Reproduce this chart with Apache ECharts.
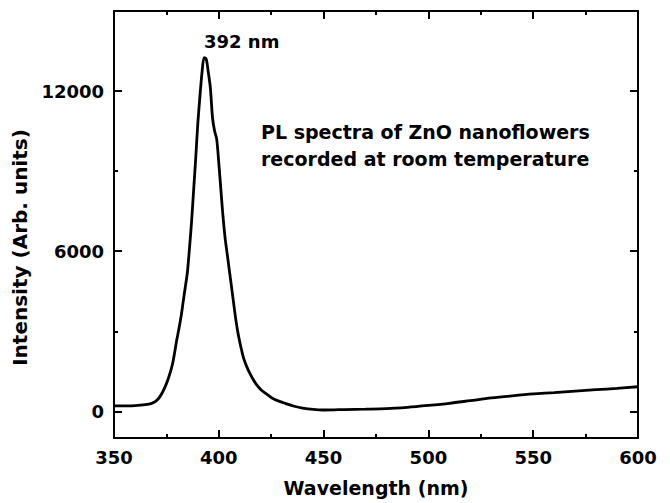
<!DOCTYPE html>
<html>
<head>
<meta charset="utf-8">
<script src="https://cdn.jsdelivr.net/npm/echarts@6/dist/echarts.min.js"></script>
<style>
  html, body { margin: 0; padding: 0; background: #fff; }
  #main { width: 670px; height: 503px; }
</style>
</head>
<body>
<div id="main"></div>
<script>
// PL 光谱数据
var wavelength = [350, 355, 360, 365, 368, 370, 372, 374, 376, 378, 380, 381, 382, 383, 384, 385, 386, 387, 388, 389,
    390, 391, 392, 393, 394, 395, 396, 397, 398, 399, 400, 401, 402, 403, 404, 405, 406, 407, 408, 409,
    410, 411, 412, 414, 416, 418, 420, 422, 425, 428, 432, 436, 440, 445, 450, 455, 460, 470, 480, 490,
    500, 510, 520, 530, 540, 550, 560, 570, 580, 590, 600];
var intensity = [200, 205, 215, 250, 300, 380, 560, 850, 1250, 1800, 2700, 3100, 3550, 4100, 4650, 5200, 6100, 7100, 8300, 9500,
    10800, 11800, 12700, 13250, 13200, 12700, 12100, 11000, 10500, 10200, 9300, 8300, 7300, 6500, 5900, 5300, 4700, 4100, 3500, 3000,
    2600, 2250, 1950, 1550, 1250, 1000, 820, 690, 520, 400, 290, 190, 120, 70, 50, 55, 65, 80, 100, 150,
    220, 300, 400, 500, 580, 650, 700, 760, 810, 860, 920];
var xTicks = [350, 400, 450, 500, 550, 600];
var yMajor = [0, 6000, 12000];
var yMinor = [3000, 9000];
var peakLabel = '392 nm';
var noteLines = ['PL spectra of ZnO nanoflowers', 'recorded at room temperature'];

var font = '"DejaVu Sans", sans-serif';
var points = [];
for (var i = 0; i < wavelength.length; i++) {
    points.push([wavelength[i], intensity[i]]);
}

// y 轴：主刻度、次刻度，左右各一套
function yAxisOf(pos, ticks, len, showLabel) {
    return {
        type: 'value', position: pos, min: -1000, max: 15000,
        axisLine: { show: true, lineStyle: { color: '#000', width: 2 } },
        splitLine: { show: false },
        axisTick: { show: true, inside: true, length: len, customValues: ticks, lineStyle: { color: '#000', width: 2 } },
        axisLabel: {
            show: showLabel, customValues: ticks, color: '#000', fontFamily: font, fontWeight: 'bold', fontSize: 18, margin: 10,
            formatter: function (v) { return String(v); }
        }
    };
}
function xAxisOf(pos, showLabel) {
    return {
        type: 'value', position: pos, min: 350, max: 600, interval: 50,
        axisLine: { show: true, onZero: false, lineStyle: { color: '#000', width: 2 } },
        splitLine: { show: false },
        axisTick: { show: true, inside: true, length: 8, lineStyle: { color: '#000', width: 2 } },
        minorTick: { show: true, splitNumber: 2, length: 4, lineStyle: { color: '#000', width: 2 } },
        axisLabel: { show: showLabel, color: '#000', fontFamily: font, fontWeight: 'bold', fontSize: 18, margin: 10 }
    };
}

var xBottom = xAxisOf('bottom', true);
xBottom.name = 'Wavelength (nm)';
xBottom.nameLocation = 'middle';
xBottom.nameGap = 40;
xBottom.nameTextStyle = { color: '#000', fontFamily: font, fontWeight: 'bold', fontSize: 19 };

var yLeft = yAxisOf('left', yMajor, 8, true);
yLeft.name = 'Intensity (Arb. units)';
yLeft.nameLocation = 'middle';
yLeft.nameGap = 80;
// 标题略偏下，用右侧 padding 往下推
yLeft.nameTextStyle = { color: '#000', fontFamily: font, fontWeight: 'bold', fontSize: 20, padding: [0, 46, 0, 0] };

var myChart = echarts.init(document.getElementById('main'), null, { renderer: 'svg' });
var option = {
    animation: false,
    backgroundColor: '#fff',
    grid: { left: 114, right: 32, top: 11, bottom: 65 },
    xAxis: [xBottom, xAxisOf('top', false)],
    yAxis: [
        yLeft,
        yAxisOf('left', yMinor, 4, false),
        yAxisOf('right', yMajor, 8, false),
        yAxisOf('right', yMinor, 4, false)
    ],
    series: [{
        type: 'line',
        data: points,
        showSymbol: false,
        smooth: 0.3,
        lineStyle: { color: '#000', width: 2.8 }
    }],
    graphic: [
        { type: 'text', left: 204, top: 32, style: { text: peakLabel, fill: '#000', font: 'bold 18px ' + font } },
        { type: 'text', left: 261, top: 118, style: { text: noteLines.join('\n'), lineHeight: 27, fill: '#000', font: 'bold 19px ' + font } }
    ]
};
myChart.setOption(option);
</script>
</body>
</html>
